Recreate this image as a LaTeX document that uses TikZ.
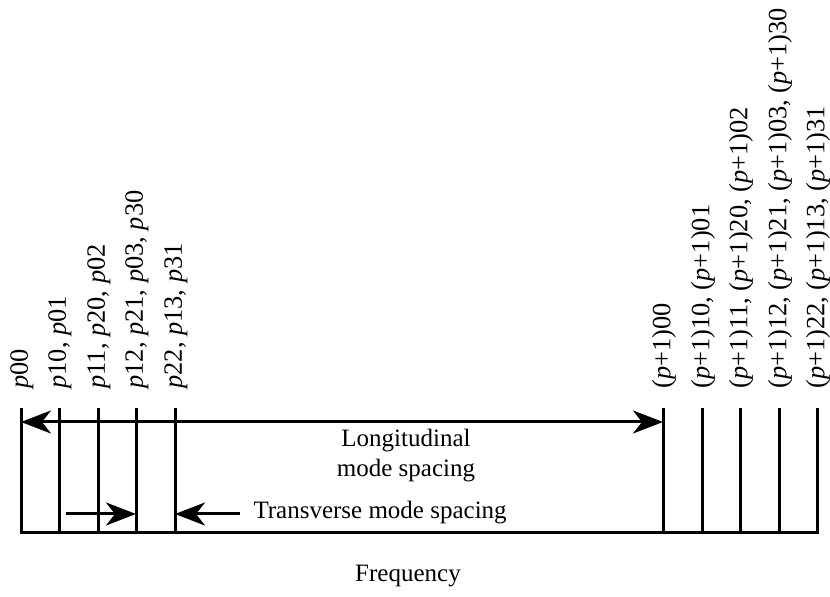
\documentclass[tikz,border=0pt]{standalone}
\usepackage{fontspec}
\setmainfont{Liberation Serif}
\usetikzlibrary{arrows.meta}
\newcommand{\pp}{\textit{p}}
\newcommand{\qq}{(\textit{p}+1)}
\begin{document}
\begin{tikzpicture}[x=1pt,y=1pt,
  line width=3pt,
  every node/.style={font=\fontsize{25}{30}\selectfont},
  modelabel/.style={rotate=90,anchor=west,inner sep=0pt,font=\fontsize{26.4}{30}\selectfont},
  bigtip/.style={-{Stealth[length=30pt,width=23pt,inset=9pt]}},
  bigtips/.style={{Stealth[length=30pt,width=23pt,inset=9pt]}-{Stealth[length=30pt,width=23pt,inset=9pt]}}]
\useasboundingbox (0,0) rectangle (830,597);
% mode lines
\foreach \i/\x in {1/21,2/59,3/98,4/136,5/175,6/663,7/702,8/740,9/779,10/817}{
  \coordinate (t\i) at (\x,189);
  \coordinate (b\i) at (\x,64);
  \draw (t\i) -- (b\i);
}
% baseline
\draw ([xshift=-1.5pt]b1) -- ([xshift=1.5pt]b10);
% labels
\node[modelabel] (l1) at (22,207) {\pp00};
\node[modelabel] (l2) at (60,207) {\pp10, \pp01};
\node[modelabel] (l3) at (99,207) {\pp11, \pp20, \pp02};
\node[modelabel] (l4) at (137,207) {\pp12, \pp21, \pp03, \pp30};
\node[modelabel] (l5) at (176,207) {\pp22, \pp13, \pp31};
\node[modelabel] (l6) at (664,207) {\qq00};
\node[modelabel] (l7) at (703,207) {\qq10, \qq01};
\node[modelabel] (l8) at (741,207) {\qq11, \qq20, \qq02};
\node[modelabel] (l9) at (780,207) {\qq12, \qq21, \qq03, \qq30};
\node[modelabel] (l10) at (818,207) {\qq22, \qq13, \qq31};
% longitudinal
\coordinate (la) at (21,175);
\coordinate (lb) at (663,175);
\draw[bigtips] (la) -- (lb);
\node[align=center,inner sep=0pt] (lt) at (406,141) {Longitudinal\\mode spacing};
% transverse
\coordinate (ta) at (66,83);
\coordinate (tb) at (136,83);
\coordinate (tc) at (240,83);
\coordinate (td) at (175,83);
\draw[bigtip] (ta) -- (tb);
\draw[bigtip] (tc) -- (td);
\node[anchor=west,inner sep=0pt] (tt) at (252,84) {Transverse mode spacing};
% frequency
\node[anchor=base,inner sep=0pt] (fq) at (408,15) {Frequency};
\end{tikzpicture}
\end{document}
